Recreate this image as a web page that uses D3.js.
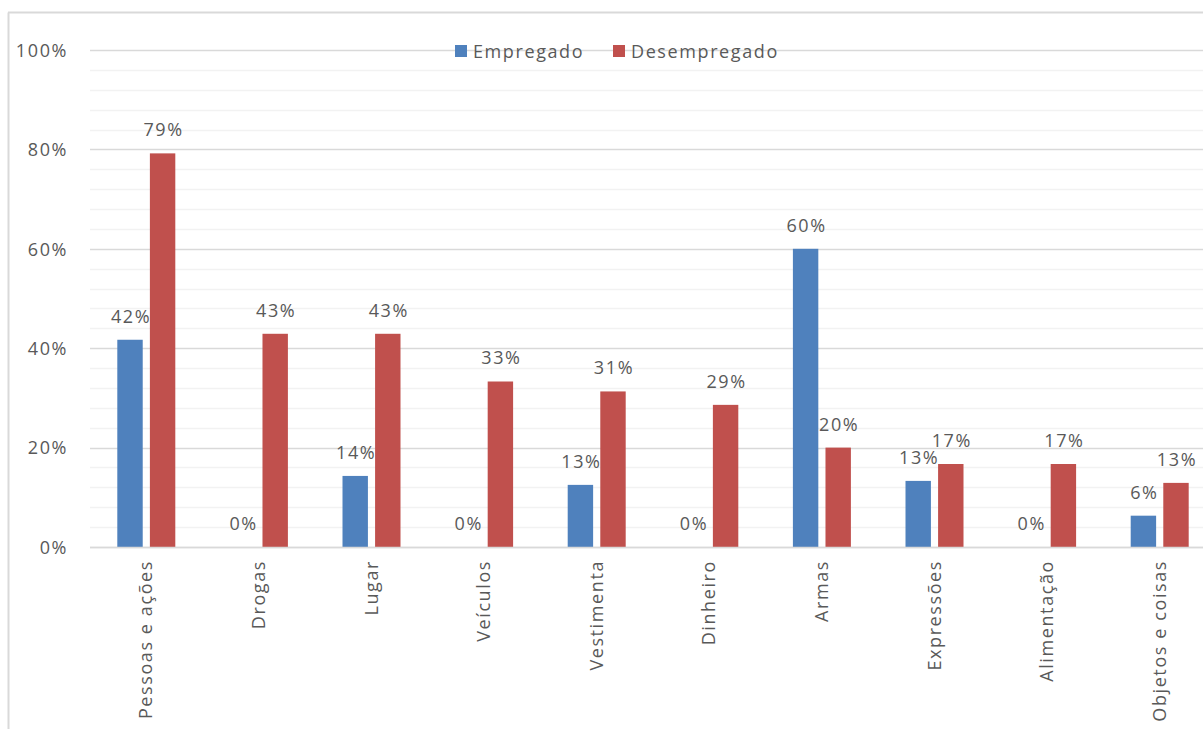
<!DOCTYPE html>
<html><head><meta charset="utf-8">
<script src="https://cdn.jsdelivr.net/npm/d3@7"></script>
<style>
html,body{margin:0;padding:0;background:#fff;}
text{font-family:"Open Sans","DejaVu Sans",sans-serif;fill:#595959;letter-spacing:1.6px;}
</style></head>
<body>
<svg id="chart" width="1203" height="729"></svg>
<script>
const categories = ["Pessoas e ações","Drogas","Lugar","Veículos","Vestimenta","Dinheiro","Armas","Expressões","Alimentação","Objetos e coisas"];
const seriesNames = ["Empregado","Desempregado"];
const empregado = [0.417, 0, 0.143, 0, 0.125, 0, 0.60, 0.133, 0, 0.063];
const desempregado = [0.792, 0.429, 0.429, 0.333, 0.313, 0.286, 0.20, 0.167, 0.167, 0.129];
const yTicks = [0, 0.2, 0.4, 0.6, 0.8, 1.0];
const colors = ["#4f81bd", "#c0504d"];

const svg = d3.select("#chart");
const fs = 18;
const margin = {left: 90, right: -13, top: 50, bottom: 182};
const W = 1203, H = 729;

// outer border (chart area)
svg.append("line").attr("x1", 8.5).attr("x2", 8.5).attr("y1", 12.5).attr("y2", H).attr("stroke", "#d9d9d9").attr("stroke-width", 2);
svg.append("line").attr("x1", 8).attr("x2", W).attr("y1", 12.5).attr("y2", 12.5).attr("stroke", "#d9d9d9").attr("stroke-width", 2);

const x = d3.scaleBand().domain(categories).range([margin.left, W - margin.right]).paddingInner(0).paddingOuter(0);
const y = d3.scaleLinear().domain([0, 1]).range([H - margin.bottom, margin.top]);

// minor gridlines
const minor = d3.range(0, 1.0001, 0.04).filter(v => Math.abs(v*5 - Math.round(v*5)) > 1e-6);
svg.append("g").selectAll("line").data(minor).join("line")
  .attr("x1", margin.left).attr("x2", W - margin.right)
  .attr("y1", d => Math.round(y(d)) + 0.5).attr("y2", d => Math.round(y(d)) + 0.5)
  .attr("stroke", "#f2f2f2").attr("stroke-width", 1.5);
// major gridlines
svg.append("g").selectAll("line").data(yTicks).join("line")
  .attr("x1", margin.left).attr("x2", W - margin.right)
  .attr("y1", d => Math.round(y(d)) + 0.5).attr("y2", d => Math.round(y(d)) + 0.5)
  .attr("stroke", "#d9d9d9").attr("stroke-width", 1.5);

// y axis labels
const yAxis = d3.axisLeft(y).tickValues(yTicks).tickFormat(d3.format(".0%")).tickSize(0).tickPadding(0);
const ga = svg.append("g").attr("transform", `translate(68,0)`).call(yAxis);
ga.select(".domain").remove();
ga.selectAll("text").attr("font-size", fs).attr("font-family", null).attr("fill", "#595959").attr("dy", "0.35em");

// bars
const xs = d3.scaleBand().domain(seriesNames).range([-29, 29]).paddingInner(0.22);
const series = [empregado, desempregado];
series.forEach((vals, si) => {
  const g = svg.append("g");
  g.selectAll("rect").data(vals).join("rect")
    .attr("x", (d, i) => x(categories[i]) + x.bandwidth()/2 + xs(seriesNames[si]))
    .attr("width", xs.bandwidth())
    .attr("y", d => y(d))
    .attr("height", d => y(0) - y(d))
    .attr("fill", colors[si]);
  g.selectAll("text").data(vals).join("text")
    .attr("x", (d, i) => x(categories[i]) + x.bandwidth()/2 + xs(seriesNames[si]) + xs.bandwidth()/2 + 1)
    .attr("y", d => y(d) - 17)
    .attr("text-anchor", "middle")
    .attr("font-size", fs)
    .text(d => d3.format(".0%")(d));
});

// x axis line
svg.append("line").attr("x1", margin.left).attr("x2", W - margin.right)
  .attr("y1", y(0) + 0.5).attr("y2", y(0) + 0.5).attr("stroke", "#d9d9d9").attr("stroke-width", 1.5);

// category labels
svg.append("g").selectAll("text").data(categories).join("text")
  .attr("transform", d => `translate(${x(d) + x.bandwidth()/2 + 6},${y(0) + 13}) rotate(-90)`)
  .attr("text-anchor", "end")
  .attr("font-size", fs)
  .text(d => d);

// legend
const legend = svg.append("g");
const legendX = [455, 613];
seriesNames.forEach((n, i) => {
  legend.append("rect").attr("x", legendX[i]).attr("y", 45).attr("width", 12).attr("height", 12).attr("fill", colors[i]);
  legend.append("text").attr("x", legendX[i] + 18).attr("y", 58).attr("font-size", fs).text(n);
});
</script>
</body></html>
